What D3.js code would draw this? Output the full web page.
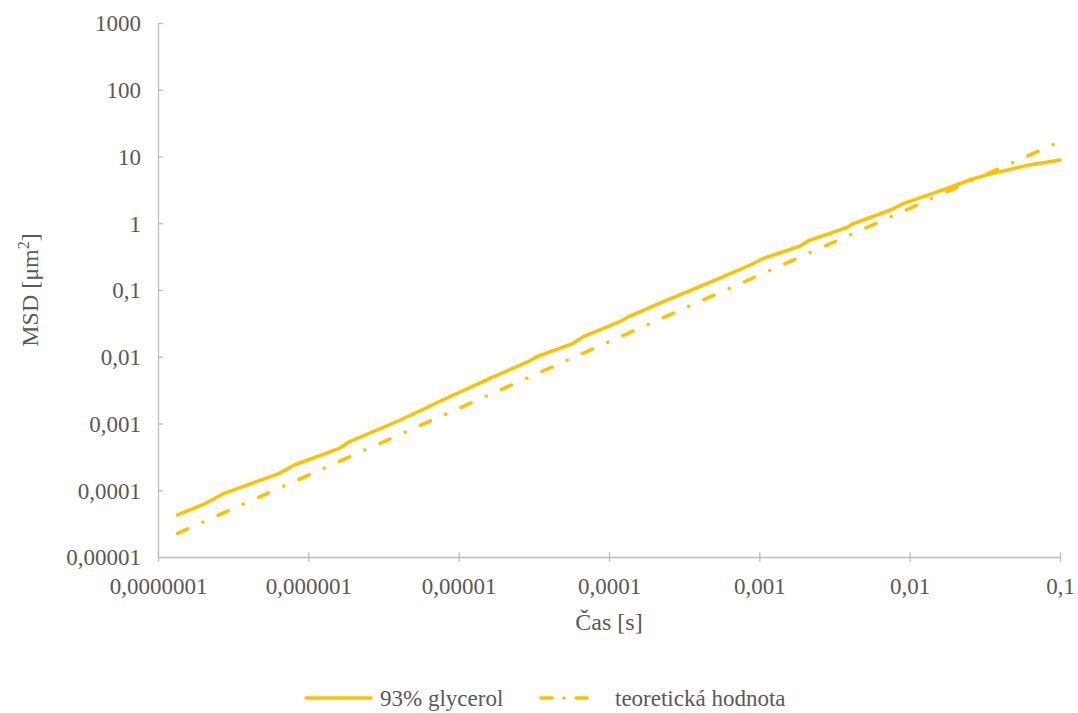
<!DOCTYPE html>
<html>
<head>
<meta charset="utf-8">
<script src="https://cdn.jsdelivr.net/npm/d3@7"></script>
<style>
  body { margin: 0; background: #fff; }
  svg, svg text, svg tspan { font-family: 'Liberation Serif' !important; }
</style>
</head>
<body>
<script>
// MSD vs. lag time, log-log

var glycerolTime = [1.35e-7, 2.08e-7, 2.75e-7, 6.41e-7, 8.07e-7, 1.61e-6, 1.87e-6, 4.0e-6,
  8.71e-6, 1.45e-5, 1.61e-5, 2.90e-5, 3.30e-5, 5.78e-5, 6.75e-5, 1.18e-4, 1.38e-4, 2.30e-4,
  5.0e-4, 8.71e-4, 1.07e-3, 1.87e-3, 2.13e-3, 3.85e-3, 4.26e-3, 7.46e-3, 9.16e-3, 1.78e-2,
  2.6e-2, 3.47e-2, 6.10e-2, 0.1];
var glycerolMsd = [4.26e-5, 6.37e-5, 9.0e-5, 1.79e-4, 2.39e-4, 4.25e-4, 5.33e-4, 1.1e-3,
  2.52e-3, 4.23e-3, 4.75e-3, 8.43e-3, 1.00e-2, 1.59e-2, 2.00e-2, 3.35e-2, 4.07e-2, 6.68e-2,
  0.138, 0.237, 0.299, 0.456, 0.548, 0.869, 0.998, 1.58, 1.99, 3.34,
  4.6, 5.5, 7.4, 8.87];

var theoryTime = [1.35e-7, 1.04e-5, 1.0e-3, 0.1];
var theoryMsd = [2.26e-5, 1.75e-3, 0.167, 16.7];

var xTicks = [1e-7, 1e-6, 1e-5, 1e-4, 1e-3, 1e-2, 1e-1];
var xTickLabels = ["0,0000001", "0,000001", "0,00001", "0,0001", "0,001", "0,01", "0,1"];
var yTicks = [1e-5, 1e-4, 1e-3, 1e-2, 1e-1, 1, 10, 100, 1000];
var yTickLabels = ["0,00001", "0,0001", "0,001", "0,01", "0,1", "1", "10", "100", "1000"];

var seriesNames = ["93% glycerol", "teoretická hodnota"];

var width = 1078, height = 713;
var margin = {left: 158, right: 18, top: 23, bottom: 156};
var color = "#FFC000";
var axisColor = "#BFBFBF";
var textColor = "#595959";
var serif = "'Liberation Serif'";
//long dash, dot (round caps make the dot)
var dashDot = "11 16.6 0.1 16.6";

var svg = d3.select("body").append("svg")
  .attr("width", width)
  .attr("height", height)
  .style("font-family", serif);

var x = d3.scaleLog()
  .domain([1e-7, 0.1])
  .range([margin.left, width - margin.right]);
var y = d3.scaleLog()
  .domain([1e-5, 1000])
  .range([height - margin.bottom, margin.top]);

//y axis, cross ticks
var yAxis = svg.append("g")
  .attr("transform", "translate(" + margin.left + ",0)")
  .call(d3.axisLeft(y).tickValues(yTicks).tickSize(5).tickSizeOuter(0)
    .tickFormat((d, i) => yTickLabels[i]));
yAxis.selectAll(".tick line").attr("x2", 5);

//x axis
var xAxis = svg.append("g")
  .attr("transform", "translate(0," + (height - margin.bottom) + ")")
  .call(d3.axisBottom(x).tickValues(xTicks).tickSize(5).tickSizeOuter(0)
    .tickFormat((d, i) => xTickLabels[i]));
xAxis.selectAll(".tick line").attr("y1", -5);

[xAxis, yAxis].forEach(ax => {
  ax.attr("font-family", null).attr("font-size", 23);
  ax.select(".domain").attr("stroke", axisColor).attr("stroke-width", 1.3);
  ax.selectAll(".tick line").attr("stroke", axisColor).attr("stroke-width", 1.3);
  ax.selectAll(".tick text")
    .attr("fill", textColor)
    .style("font-family", serif, "important");
});
yAxis.selectAll(".tick text").attr("x", -17).attr("dy", "0.34em");
xAxis.selectAll(".tick text").attr("y", 21).attr("dy", "0.71em");

//series lines
var line = d3.line()
  .x(d => x(d[0]))
  .y(d => y(d[1]));

svg.append("path")
  .datum(d3.zip(glycerolTime, glycerolMsd))
  .attr("fill", "none")
  .attr("stroke", color)
  .attr("stroke-width", 3.5)
  .attr("stroke-linejoin", "round")
  .attr("stroke-linecap", "round")
  .attr("d", line);

svg.append("path")
  .datum(d3.zip(theoryTime, theoryMsd))
  .attr("fill", "none")
  .attr("stroke", color)
  .attr("stroke-width", 3.5)
  .attr("stroke-linecap", "round")
  .attr("stroke-dasharray", dashDot)
  .attr("d", line);

//axis titles
svg.append("text")
  .attr("x", (margin.left + width - margin.right) / 2)
  .attr("y", 630)
  .attr("text-anchor", "middle")
  .attr("fill", textColor)
  .attr("font-size", 24)
  .style("font-family", serif, "important")
  .text("Čas [s]");

var yTitle = svg.append("text")
  .attr("transform", "translate(38," + ((margin.top + height - margin.bottom) / 2) + ") rotate(-90)")
  .attr("text-anchor", "middle")
  .attr("fill", textColor)
  .attr("font-size", 24)
  .style("font-family", serif, "important");
yTitle.append("tspan").text("MSD [μm");
yTitle.append("tspan").attr("dy", -9).attr("font-size", 16).text("2");
yTitle.append("tspan").attr("dy", 9).text("]");

//legend
var legend = svg.append("g").attr("transform", "translate(0,698)");
var legendItems = [
  {name: seriesNames[0], x1: 306, x2: 371, dash: null, tx: 380},
  {name: seriesNames[1], x1: 541, x2: 596, dash: "11 12 0.1 12", tx: 615}
];
legendItems.forEach(it => {
  legend.append("line")
    .attr("x1", it.x1).attr("x2", it.x2)
    .attr("y1", 0).attr("y2", 0)
    .attr("stroke", color)
    .attr("stroke-width", 3.5)
    .attr("stroke-linecap", "round")
    .attr("stroke-dasharray", it.dash);
  legend.append("text")
    .attr("x", it.tx)
    .attr("y", 0)
    .attr("dy", "0.34em")
    .attr("fill", textColor)
    .attr("font-size", 23)
    .style("font-family", serif, "important")
    .text(it.name);
});
</script>
</body>
</html>
